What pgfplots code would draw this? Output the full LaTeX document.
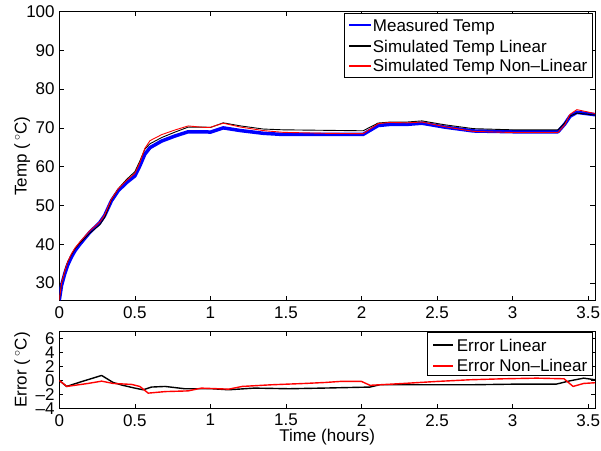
\documentclass[border=0pt]{standalone}
\usepackage{pgfplots}
\pgfplotsset{compat=1.18}
\usepackage{fontspec}
\setmainfont{Liberation Sans}
\definecolor{mblue}{rgb}{0,0,1}
\definecolor{mred}{rgb}{1,0,0}
\begin{document}
\fontsize{17}{20}\selectfont
\begin{tikzpicture}[font=\fontsize{17}{20}\selectfont]
\path[use as bounding box] (0,0) rectangle (601pt,450pt);
\pgfplotsset{
  myaxis/.style={
    scale only axis, width=535.7pt,
    xmin=0, xmax=3.545,
    xtick={0,0.5,1,1.5,2,2.5,3,3.5},
    xticklabels={0,0.5,1,1.5,2,2.5,3,3.5},
    /pgf/number format/assume math mode=true,
    tick align=inside, tick pos=both,
    major tick style={black, line width=0.6pt},
    axis line style={black, line width=0.8pt},
    yticklabel style={xshift=1.2pt},
    ylabel style={at={(axis description cs:-0.069,0.5)}, anchor=center},
  }
}
\begin{axis}[myaxis,
  at={(59.3pt,149.5pt)}, anchor=south west, height=289pt,
  ymin=25.5, ymax=100, ytick={30,40,50,60,70,80,90,100},
  major tick length=5pt,
  ylabel={Temp (\,$^{\circ}$C)},
]
\addplot[color=mblue, line width=3.5pt, line join=round] coordinates {
(0,25.6) (0.015,29.4) (0.036,32.4) (0.055,34.6) (0.08,36.7) (0.105,38.4) (0.136,40) (0.2,43) (0.268,45.6) (0.30,47.4)
(0.345,51.2) (0.39,53.8) (0.445,55.9) (0.5,57.6) (0.533,60.2) (0.566,63.2) (0.6,64.9)
(0.677,66.6) (0.765,67.9) (0.853,69.0) (0.963,69.0) (1.0,68.9) (1.085,70.0) (1.2,69.3)
(1.35,68.6) (1.48,68.3) (2.01,68.3) (2.11,70.6) (2.19,70.9) (2.30,70.9) (2.40,71.2)
(2.55,70.2) (2.74,69.2) (3.0,69.0) (3.30,69.0) (3.345,71.0) (3.38,73.0) (3.425,74.0) (3.545,73.4)
};
\addplot[black, line width=0.9pt] coordinates {
(0,25.6) (0.015,30.0) (0.036,33.1) (0.055,35.4) (0.08,37.3) (0.105,38.9) (0.136,40.3) (0.2,42.8) (0.268,45.0) (0.30,46.9)
(0.345,51.4) (0.39,54.3) (0.445,56.7) (0.5,58.7) (0.533,61.45) (0.566,64.5) (0.6,65.9)
(0.677,67.5) (0.765,68.9) (0.853,70.2) (0.963,70.2) (1.0,70.1) (1.085,71.3) (1.2,70.5)
(1.35,69.7) (1.48,69.5) (2.01,69.25) (2.11,71.25) (2.19,71.5) (2.30,71.5) (2.40,71.8)
(2.55,70.8) (2.74,69.8) (3.0,69.5) (3.30,69.5) (3.345,71.3) (3.38,73.05) (3.425,73.8) (3.545,73.3)
};
\addplot[mred, line width=0.9pt] coordinates {
(0,25.6) (0.015,30.0) (0.036,33.05) (0.055,35.4) (0.08,37.5) (0.105,39.1) (0.136,40.6) (0.2,43.4) (0.268,45.75) (0.30,47.55)
(0.345,51.6) (0.39,54.3) (0.445,56.45) (0.5,58.25) (0.533,61.06) (0.566,64.7) (0.6,66.7)
(0.677,68.25) (0.765,69.45) (0.853,70.5) (0.963,70.1) (1.0,70.15) (1.085,71.2) (1.2,70.2)
(1.35,69.3) (1.48,68.85) (1.76,68.6) (2.01,68.5) (2.11,71.1) (2.19,71.4) (2.30,71.3) (2.40,71.5)
(2.55,70.3) (2.74,69.1) (3.0,68.8) (3.30,68.8) (3.345,70.8) (3.38,73.5) (3.425,74.7) (3.545,73.7)
};
\end{axis}

\begin{axis}[myaxis,
  at={(59.3pt,41.7pt)}, anchor=south west, height=76.6pt,
  ymin=-4, ymax=7, ytick={-4,-2,0,2,4,6},
  yticklabels={–4,–2,0,2,4,6},
  major tick length=4pt,
  ylabel={Error (\,$^{\circ}$C)},
  xlabel={Time (hours)},
  xlabel style={at={(axis description cs:0.5,0)}, anchor=center, yshift=-28.7pt},
]
\addplot[black, line width=1.4pt, line join=round] coordinates {
(0,0) (0.048,-0.86) (0.1,-0.5) (0.15,-0.15) (0.2,0.18) (0.28,0.72) (0.356,-0.29)
(0.42,-0.7) (0.5,-1.1) (0.555,-1.34) (0.61,-0.95) (0.70,-0.86) (0.83,-1.19) (1.01,-1.19)
(1.12,-1.34) (1.29,-1.1) (1.52,-1.19) (1.74,-1.1) (2.056,-0.95) (2.12,-0.62) (2.39,-0.62)
(2.72,-0.62) (3.05,-0.52) (3.29,-0.52) (3.38,-0.05) (3.47,0.33) (3.545,0.1)
};
\addplot[mred, line width=1.4pt, line join=round] coordinates {
(0,0) (0.05,-0.86) (0.19,-0.43) (0.28,-0.1) (0.356,-0.43) (0.478,-0.57) (0.533,-0.86)
(0.588,-1.82) (0.70,-1.6) (0.853,-1.5) (0.94,-1.1) (1.12,-1.25) (1.21,-0.86) (1.405,-0.62)
(1.626,-0.43) (1.76,-0.29) (1.86,-0.14) (2.0,-0.14) (2.056,-0.7) (2.28,-0.43) (2.5,-0.14)
(2.72,0.1) (2.94,0.24) (3.16,0.33) (3.34,0.24) (3.40,-0.86) (3.47,-0.43) (3.545,-0.33)
};
\end{axis}

% legend boxes
\draw[black, line width=0.7pt, fill=white] (344.3pt,436.7pt) rectangle (592.3pt,372.3pt);
\draw[black, line width=0.7pt, fill=white] (427.7pt,117.7pt) rectangle (592.7pt,75pt);
% legend lines
\draw[mblue, line width=1.5pt] (349.3pt,425pt) -- (370.7pt,425pt);
\draw[black, line width=1.5pt] (349.3pt,404pt) -- (370.7pt,404pt);
\draw[mred, line width=1.5pt] (349.3pt,384pt) -- (370.7pt,384pt);
\draw[black, line width=1.5pt] (433.3pt,105pt) -- (453.3pt,105pt);
\draw[mred, line width=1.5pt] (433.3pt,84pt) -- (453.3pt,84pt);
% legend texts
\node[anchor=base west, inner sep=0pt] at (372.7pt,418.9pt) {Measured Temp};
\node[anchor=base west, inner sep=0pt] at (372.7pt,397.9pt) {Simulated Temp Linear};
\node[anchor=base west, inner sep=0pt] at (372.7pt,378.2pt) {Simulated Temp Non–Linear};
\node[anchor=base west, inner sep=0pt] at (456.7pt,98.9pt) {Error Linear};
\node[anchor=base west, inner sep=0pt] at (456.7pt,78.2pt) {Error Non–Linear};
\end{tikzpicture}
\end{document}
